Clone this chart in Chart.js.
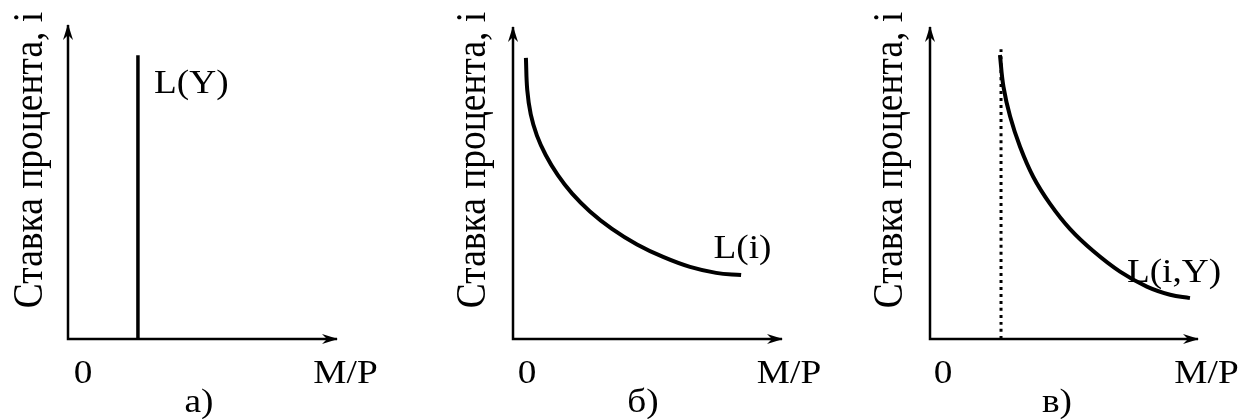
<!DOCTYPE html>
<html>
<head>
<meta charset="utf-8">
<script src="https://cdn.jsdelivr.net/npm/chart.js@4/dist/chart.umd.min.js"></script>
<style>
  html, body { margin: 0; padding: 0; background: #fff; }
  #wrap { position: relative; width: 1243px; height: 419px; background: #fff; }
  #wrap canvas { position: absolute; top: 0; }
</style>
</head>
<body>
<div id="wrap">
  <canvas id="panel-a" width="415" height="419" style="left:0"></canvas>
  <canvas id="panel-b" width="415" height="419" style="left:415px"></canvas>
  <canvas id="panel-c" width="413" height="419" style="left:830px"></canvas>
</div>
<script>
// texts
const yTitle = 'Ставка процента, і'
const xTitle = 'M/P'
const originLabel = '0'
const panelNames = ['а)', 'б)', 'в)']
const curveNames = ['L(Y)', 'L(i)', 'L(i,Y)']

// both axes as one polyline: top of y axis -> origin -> end of x axis
const axisX = [0, 0, 100]
const axisY = [100, 0, 0]

// panel а: vertical L(Y)
const lyX = [26, 26]
const lyY = [0, 90.4]

// panel б: L(i)
const liX = [4.8, 5.3, 6.6, 8.9, 12.2, 16.6, 22.0, 28.6, 36.8, 46.1, 55.8, 65.8, 75.5, 84.8]
const liY = [90.1, 79.8, 72.0, 65.2, 58.9, 52.6, 46.6, 40.9, 35.3, 30.3, 26.3, 23.1, 21.2, 20.5]

// panel в: L(i,Y) plus dotted bound
const liyX = [26.1, 27.4, 29.9, 33.6, 38.5, 44.8, 52.2, 60.9, 70.9, 80.9, 89.6, 97.0]
const liyY = [91.0, 80.9, 71.3, 61.6, 52.0, 43.3, 35.3, 28.2, 21.6, 16.8, 14.2, 13.1]
const dotX = [26.5, 26.5]
const dotY = [0, 92.9]

const zip = (xs, ys) => xs.map((x, i) => ({ x: x, y: ys[i] }))

const SERIF = '"Liberation Serif", "Times New Roman", serif'
const STRETCH = 1.13

function arrowHead(ctx, x, y, angle) {
  ctx.save()
  ctx.translate(x, y)
  ctx.rotate(angle)
  ctx.beginPath()
  ctx.moveTo(1, 0)
  ctx.lineTo(-15, -5)
  ctx.lineTo(-10, 0)
  ctx.lineTo(-15, 5)
  ctx.closePath()
  ctx.fillStyle = '#000'
  ctx.fill()
  ctx.restore()
}

// arrows on the axes + all the text of a panel
const panelDecor = {
  id: 'panelDecor',
  afterDraw(chart, args, opts) {
    const ctx = chart.ctx
    const xs = chart.scales.x
    const ys = chart.scales.y
    arrowHead(ctx, xs.getPixelForValue(0), ys.getPixelForValue(100), -Math.PI / 2)
    arrowHead(ctx, xs.getPixelForValue(100), ys.getPixelForValue(0), 0)

    ctx.save()
    ctx.fillStyle = '#000'
    ctx.textBaseline = 'alphabetic'
    ;(opts.labels || []).forEach(function(l) {
      ctx.save()
      ctx.font = '33px ' + SERIF
      ctx.textAlign = l.align || 'center'
      ctx.translate(l.x, l.y)
      ctx.scale(STRETCH, 1)
      ctx.fillText(l.text, 0, 0)
      ctx.restore()
    })
    if (opts.title) {
      const t = opts.title
      ctx.save()
      ctx.font = '37.5px ' + SERIF
      ctx.textAlign = 'center'
      ctx.translate(t.x, t.y)
      ctx.scale(1.15, 1)
      ctx.rotate(-Math.PI / 2)
      ctx.fillText(yTitle, 0, 0)
      ctx.restore()
    }
    ctx.restore()
  }
}

function lineSet(points, width, dash) {
  return {
    data: points,
    showLine: true,
    borderColor: '#000',
    backgroundColor: '#000',
    borderWidth: width,
    borderDash: dash || [],
    borderCapStyle: 'butt',
    pointRadius: 0,
    tension: 0.4,
    clip: false,
  }
}

function makePanel(id, padding, datasets, decor) {
  return new Chart(document.getElementById(id), {
    type: 'scatter',
    data: { datasets: datasets },
    options: {
      responsive: false,
      animation: false,
      devicePixelRatio: 1,
      layout: { padding: padding },
      scales: {
        x: { type: 'linear', min: 0, max: 100, display: false },
        y: { type: 'linear', min: 0, max: 100, display: false },
      },
      plugins: {
        legend: { display: false },
        tooltip: { enabled: false },
        panelDecor: decor,
      }
    },
    plugins: [panelDecor]
  })
}

makePanel('panel-a', { left: 68, right: 78, top: 25, bottom: 80 }, [
  lineSet(zip(axisX, axisY), 2.5),
  lineSet(zip(lyX, lyY), 3.5),
], {
  labels: [
    { text: curveNames[0], x: 154, y: 93, align: 'left' },
    { text: originLabel, x: 83, y: 383 },
    { text: xTitle, x: 345.5, y: 383 },
    { text: panelNames[0], x: 199, y: 412 },
  ],
  title: { x: 42, y: 160 }
})

makePanel('panel-b', { left: 98, right: 48, top: 27, bottom: 80 }, [
  lineSet(zip(axisX, axisY), 2.5),
  lineSet(zip(liX, liY), 4),
], {
  labels: [
    { text: curveNames[1], x: 327.5, y: 258 },
    { text: originLabel, x: 112, y: 383 },
    { text: xTitle, x: 374, y: 383 },
    { text: panelNames[1], x: 228, y: 412 },
  ],
  title: { x: 70, y: 160 }
})

makePanel('panel-c', { left: 100, right: 45, top: 27, bottom: 80 }, [
  lineSet(zip(axisX, axisY), 2.5),
  lineSet(zip(dotX, dotY), 3, [3, 4]),
  lineSet(zip(liyX, liyY), 4),
], {
  labels: [
    { text: curveNames[2], x: 344, y: 282 },
    { text: originLabel, x: 113, y: 383 },
    { text: xTitle, x: 376.5, y: 383 },
    { text: panelNames[2], x: 227, y: 412 },
  ],
  title: { x: 72, y: 160 }
})
</script>
</body>
</html>
